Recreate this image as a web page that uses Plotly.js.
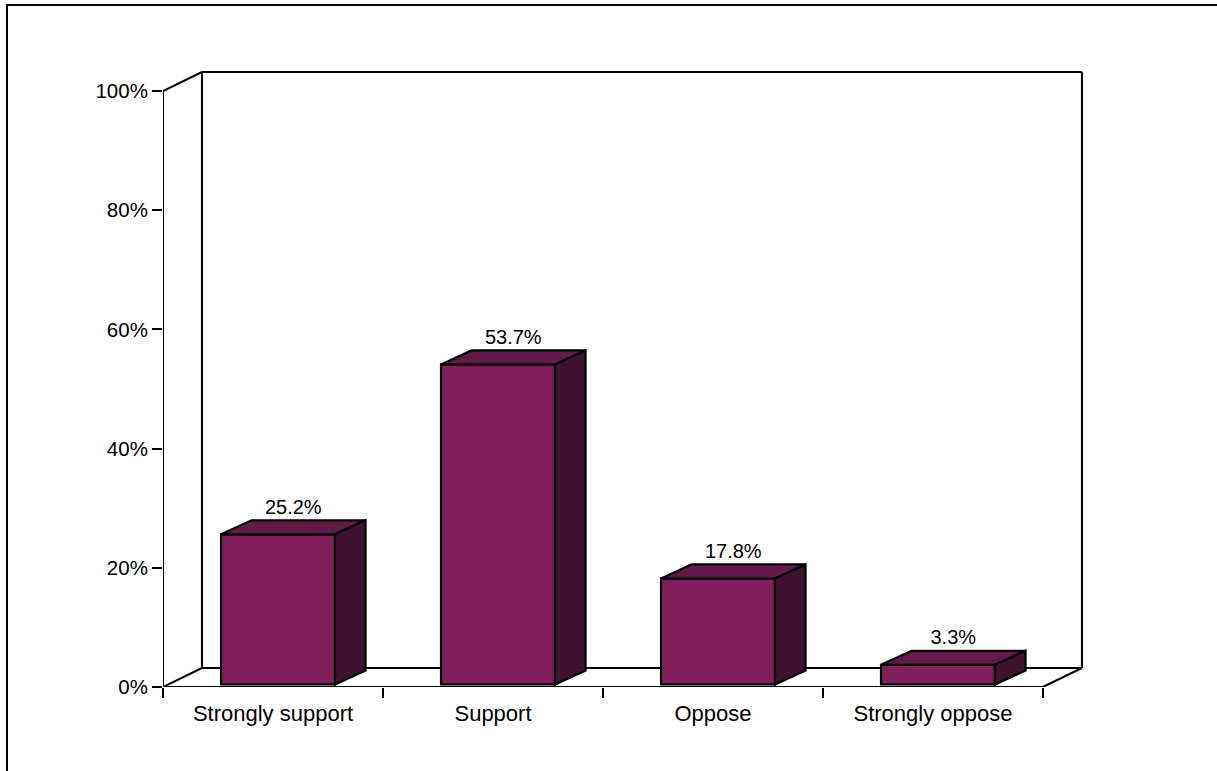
<!DOCTYPE html>
<html>
<head>
<meta charset="utf-8">
<script src="https://cdn.plot.ly/plotly-3.0.1.min.js"></script>
<style>
html,body{margin:0;padding:0;overflow:hidden;background:#fff;}
#chart{position:absolute;left:0;top:0;width:1217px;height:771px;}
#frame{position:absolute;left:6px;top:4px;width:1400px;height:1000px;border-left:2px solid #000;border-top:2px solid #000;pointer-events:none;}
</style>
</head>
<body>
<div id="chart"></div>
<div id="frame"></div>
<script>
// ---- data ----
const categories = ["Strongly support", "Support", "Oppose", "Strongly oppose"];
const values = [25.2, 53.7, 17.8, 3.3];
const valueLabels = ["25.2%", "53.7%", "17.8%", "3.3%"];
const yTickVals = [0, 20, 40, 60, 80, 100];
const yTickText = ["0%", "20%", "40%", "60%", "80%", "100%"];

// ---- style / geometry (not data) ----
const FRONT = "#801F5C", TOP = "#621A49", SIDE = "#3F1230";
const FAM = "Liberation Sans, Arial, sans-serif";
const XFONT = {family: FAM, size: 22, color: "#000"};
const YFONT = {family: FAM, size: 20.5, color: "#000"};
const VFONT = {family: FAM, size: 20, color: "#000"};
const barW = 0.518;
const pdx = 0.0227, pdy = 0.42;          // bar front plane set slightly back
const barOff = -barW / 2 + pdx;
const bdx = 0.139, bdy = 2.35;           // bar depth (x in categories, y in %)
const wdx = 0.177, wdy = 3.19;           // wall depth
const n = categories.length;
const xs = categories.map((_, i) => i);

const traces = [];
// front faces
traces.push({
  type: "bar", x: xs, y: values, base: pdy, width: barW, offset: barOff,
  marker: {color: FRONT, line: {color: "#000", width: 2.2}},
  hoverinfo: "skip", showlegend: false
});
// top & side faces
values.forEach((v, i) => {
  const x0 = i + barOff, x1 = x0 + barW, b = pdy, t = v + pdy;
  traces.push({
    type: "scatter", mode: "lines", fill: "toself", fillcolor: TOP,
    x: [x0, x0 + bdx, x1 + bdx, x1, x0], y: [t, t + bdy, t + bdy, t, t],
    line: {color: "#000", width: 2.2}, hoverinfo: "skip", showlegend: false
  });
  traces.push({
    type: "scatter", mode: "lines", fill: "toself", fillcolor: SIDE,
    x: [x1, x1 + bdx, x1 + bdx, x1, x1], y: [t, t + bdy, b + bdy, b, t],
    line: {color: "#000", width: 2.2}, hoverinfo: "skip", showlegend: false
  });
});
// value labels
traces.push({
  type: "scatter", mode: "text",
  x: xs.map(i => i + barOff + barW / 2 + bdx / 2),
  y: values.map(v => v + pdy + bdy + 0.3),
  text: valueLabels, textposition: "top center",
  textfont: VFONT, hoverinfo: "skip", showlegend: false
});

const L = -0.5, R = n - 0.5, TOPV = 100;
const ln = (x0, y0, x1, y1) => ({type: "line", xref: "x", yref: "y", x0, y0, x1, y1,
  layer: "below", line: {color: "#000", width: 2}});
const shapes = [
  ln(L + wdx, wdy, R + wdx, wdy),            // back floor edge
  ln(L + wdx, wdy, L + wdx, TOPV + wdy),     // back wall left
  ln(L + wdx, TOPV + wdy, R + wdx, TOPV + wdy), // back wall top
  ln(R + wdx, wdy, R + wdx, TOPV + wdy),     // back wall right
  ln(L, 0, R, 0),                            // front floor edge
  ln(L, 0, L + wdx, wdy),
  ln(R, 0, R + wdx, wdy),
  ln(L, 0, L, TOPV),                         // front value axis
  ln(L, TOPV, L + wdx, TOPV + wdy)
];

const plotL = 163, plotR = 1100, plotT = 60, plotB = 687;
const pxPerCat = 220, pxPerPct = 5.96;
const layout = {
  width: 1217, height: 771,
  margin: {l: plotL, r: 1217 - plotR, t: plotT, b: 771 - plotB, pad: 0},
  paper_bgcolor: "#fff", plot_bgcolor: "rgba(0,0,0,0)",
  font: VFONT,
  showlegend: false,
  xaxis: {
    type: "linear", range: [L, L + (plotR - plotL) / pxPerCat],
    tickmode: "array", tickvals: xs, ticktext: categories,
    ticks: "outside", ticklen: 7, tickcolor: "rgba(0,0,0,0)",
    showgrid: false, zeroline: false, showline: false, fixedrange: true,
    tickfont: XFONT,
    minor: {tickmode: "array", tickvals: xs.map(i => i - 0.5).concat([R]),
            ticks: "outside", ticklen: 10, tickwidth: 2, tickcolor: "#000", showgrid: false}
  },
  yaxis: {
    range: [0, (plotB - plotT) / pxPerPct],
    tickmode: "array", tickvals: yTickVals, ticktext: yTickText,
    ticks: "outside", ticklen: 10, tickwidth: 2, tickcolor: "#000",
    showgrid: false, zeroline: false, showline: false, fixedrange: true,
    tickfont: YFONT
  },
  shapes: shapes
};
Plotly.newPlot("chart", traces, layout, {displayModeBar: false, staticPlot: true});
</script>
</body>
</html>
